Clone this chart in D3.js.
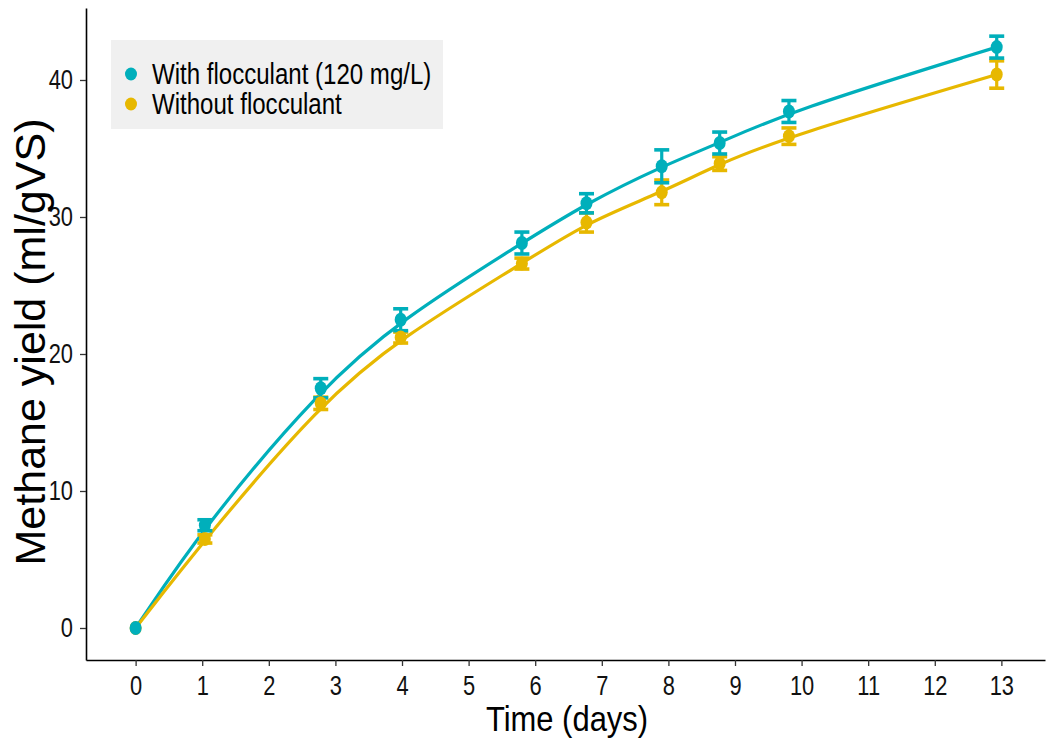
<!DOCTYPE html>
<html><head><meta charset="utf-8">
<script src="https://cdn.jsdelivr.net/npm/d3@7"></script>
<style>html,body{margin:0;padding:0;background:#fff;}</style>
</head><body>
<svg id="chart" width="1048" height="741"></svg>
<script>
// ---- data ----
const days = [0, 1.04, 2.78, 3.98, 5.8, 6.77, 7.9, 8.77, 9.81, 12.93];
const withFloc = [0, 7.5, 17.5, 22.5, 28.1, 31.0, 33.7, 35.4, 37.7, 42.4];
const withFlocSD = [0, 0.4, 0.7, 0.8, 0.8, 0.7, 1.2, 0.8, 0.8, 0.8];
const withoutFloc = [0, 6.5, 16.4, 21.2, 26.6, 29.6, 31.8, 33.9, 35.9, 40.4];
const withoutFlocSD = [0, 0.3, 0.45, 0.4, 0.4, 0.7, 0.9, 0.5, 0.6, 1.0];
const xTicks = [0,1,2,3,4,5,6,7,8,9,10,11,12,13];
const yTicks = [0,10,20,30,40];
const seriesNames = ["With flocculant (120 mg/L)", "Without flocculant"];
const seriesColors = ["#00AFBB", "#E7B800"];

const svg = d3.select("#chart");
const font = "'Liberation Sans',Arial,sans-serif";
const SX = 0.81; // horizontal compression of text as in reference

const x = d3.scaleLinear().domain([-0.745, 13.655]).range([86, 1045]);
const y = d3.scaleLinear().domain([-2.336, 45.255]).range([660, 8]);

const series = [
  {name: seriesNames[0], color: seriesColors[0], vals: withFloc, sd: withFlocSD},
  {name: seriesNames[1], color: seriesColors[1], vals: withoutFloc, sd: withoutFlocSD}
].map(s => ({...s, pts: days.map((d,i)=>({d, v: s.vals[i], sd: s.sd[i]}))}));

// axes
const xAxis = svg.append("g").attr("transform","translate(0,660)")
  .call(d3.axisBottom(x).tickValues(xTicks).tickSize(6).tickSizeOuter(0).tickPadding(6));
const yAxis = svg.append("g").attr("transform","translate(86,0)")
  .call(d3.axisLeft(y).tickValues(yTicks).tickSize(6).tickSizeOuter(0).tickPadding(6));
[xAxis, yAxis].forEach(g => {
  g.select(".domain").attr("stroke","#000").attr("stroke-width",1.6);
  g.selectAll(".tick line").attr("stroke","#333").attr("stroke-width",1.3);
  g.selectAll(".tick text").attr("fill","#111").style("font-family", font).style("font-size","27px");
});
xAxis.selectAll(".tick text").attr("y",0).attr("dy",0)
  .attr("transform",`translate(0,35) scale(${SX},1)`);
yAxis.selectAll(".tick text").attr("x",0)
  .attr("transform",`translate(-13,0) scale(${SX},1)`);

// lines
const line = d3.line().x(p=>x(p.d)).y(p=>y(p.v)).curve(d3.curveBasis);
const lineLayer = svg.append("g");
series.forEach(s => {
  lineLayer.append("path").datum(s.pts).attr("d", line)
    .attr("fill","none").attr("stroke", s.color).attr("stroke-width",3.2);
});

// error bars (yellow first, teal on top)
const ebLayer = svg.append("g");
[series[1], series[0]].forEach(s => {
  const g = ebLayer.append("g").attr("stroke", s.color).attr("stroke-width",3.2).attr("fill","none");
  s.pts.filter(p=>p.sd>0).forEach(p => {
    const cx = x(p.d), y1 = y(p.v + p.sd), y2 = y(p.v - p.sd);
    g.append("line").attr("x1",cx).attr("x2",cx).attr("y1",y1).attr("y2",y2);
    g.append("line").attr("x1",cx-7.5).attr("x2",cx+7.5).attr("y1",y1).attr("y2",y1).attr("stroke-width",3.6);
    g.append("line").attr("x1",cx-7.5).attr("x2",cx+7.5).attr("y1",y2).attr("y2",y2).attr("stroke-width",3.6);
  });
});

// points
const ptLayer = svg.append("g");
[series[1], series[0]].forEach(s => {
  ptLayer.selectAll(null).data(s.pts).enter().append("ellipse")
    .attr("cx", p=>x(p.d)).attr("cy", p=>y(p.v)).attr("rx",6).attr("ry",7)
    .attr("fill", s.color);
});

// axis titles
svg.append("text").attr("transform",`translate(567,731) scale(0.86,1)`).attr("text-anchor","middle")
  .style("font-family", font).style("font-size","36px").attr("fill","#000").text("Time (days)");
svg.append("text").attr("transform","translate(45,342) rotate(-90)").attr("text-anchor","middle")
  .style("font-family", font).style("font-size","43px").attr("fill","#000").text("Methane yield (ml/gVS)");

// legend
const leg = svg.append("g");
leg.append("rect").attr("x",111).attr("y",40).attr("width",332).attr("height",89).attr("fill","#f0f0f0");
series.forEach((s,i) => {
  const cy = 74 + i*30;
  leg.append("ellipse").attr("cx",131).attr("cy",cy).attr("rx",6).attr("ry",6.5).attr("fill", s.color);
  leg.append("text").attr("transform",`translate(152,${cy}) scale(0.83,1)`).attr("dy","0.36em")
    .style("font-family", font).style("font-size","29px").attr("fill","#000").text(s.name);
});
</script>
</body></html>
